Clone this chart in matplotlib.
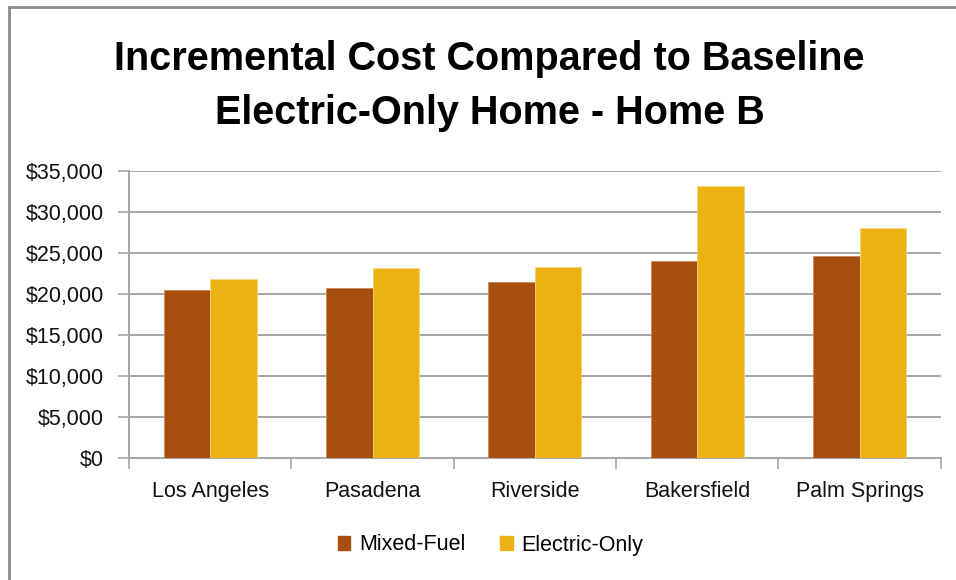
import matplotlib
matplotlib.use("Agg")
import matplotlib.pyplot as plt
from matplotlib.lines import Line2D
from matplotlib.patches import Patch
from matplotlib.ticker import FuncFormatter, MultipleLocator
import numpy as np

cities = ["Los Angeles", "Pasadena", "Riverside", "Bakersfield", "Palm Springs"]
mixed_fuel = [20500, 20650, 21450, 23950, 24550]
electric_only = [21750, 23150, 23300, 33150, 28000]
series_names = ["Mixed-Fuel", "Electric-Only"]
title_text = "Incremental Cost Compared to Baseline\nElectric-Only Home - Home B"

BROWN = "#A84F0F"
GOLD = "#EEB114"
GRID = "#A6A6A6"

plt.rcParams["font.family"] = ["Liberation Sans", "DejaVu Sans"]

fig = plt.figure(figsize=(9.56, 5.8), dpi=100)
ax = fig.add_axes([129 / 956, 1 - 457.7 / 580, (940.7 - 129) / 956, (457.7 - 170.7) / 580])

x = np.arange(len(cities))
w = 1 / 3.5
ax.bar(x - w / 2, mixed_fuel, w, color=BROWN, edgecolor="#C9875A", linewidth=0.6, zorder=3)
ax.bar(x + w / 2, electric_only, w, color=GOLD, edgecolor="#F5D27A", linewidth=0.6, zorder=3)

ax.set_xlim(-0.5, len(cities) - 0.5)
ax.set_ylim(0, 35000)
ax.yaxis.set_major_locator(MultipleLocator(5000))
ax.yaxis.set_major_formatter(FuncFormatter(lambda v, p: f"${v:,.0f}"))
ax.grid(axis="y", color=GRID, linewidth=1.4, zorder=0)

ax.set_xticks(np.arange(len(cities) + 1) - 0.5)
ax.set_xticklabels([])
ax.set_xticks(x, minor=True)
ax.set_xticklabels(cities, minor=True, fontsize=15.5, color="#111111")
ax.tick_params(axis="x", which="minor", length=0, pad=17)
ax.tick_params(axis="x", which="major", length=8, width=1.2, color=GRID)
ax.tick_params(axis="y", length=8, width=1.2, color=GRID, labelsize=15.5,
               labelcolor="#111111", pad=10)

for side in ("top", "right"):
    ax.spines[side].set_visible(False)
for side in ("left", "bottom"):
    ax.spines[side].set_color(GRID)
    ax.spines[side].set_linewidth(1.4)

fig.text(0.512, 1 - 86 / 580, title_text, ha="center", va="center",
         fontsize=28.5, fontweight="bold", linespacing=1.52)

handles = [Patch(facecolor=BROWN, edgecolor=BROWN), Patch(facecolor=GOLD, edgecolor=GOLD)]
fig.legend(handles, series_names, loc="center", bbox_to_anchor=(0.513, 1 - 545 / 580),
           ncol=2, frameon=False, fontsize=15.5, handlelength=0.6, handleheight=0.6,
           handletextpad=0.4, columnspacing=1.6)

# frame lines along the top and left edges
fig.add_artist(Line2D([9 / 956, 1], [1 - 7 / 580, 1 - 7 / 580], color="#8C8C8C", linewidth=2))
fig.add_artist(Line2D([9 / 956, 9 / 956], [0, 1 - 7 / 580], color="#8C8C8C", linewidth=2))

fig.savefig("out.png", dpi=100)
